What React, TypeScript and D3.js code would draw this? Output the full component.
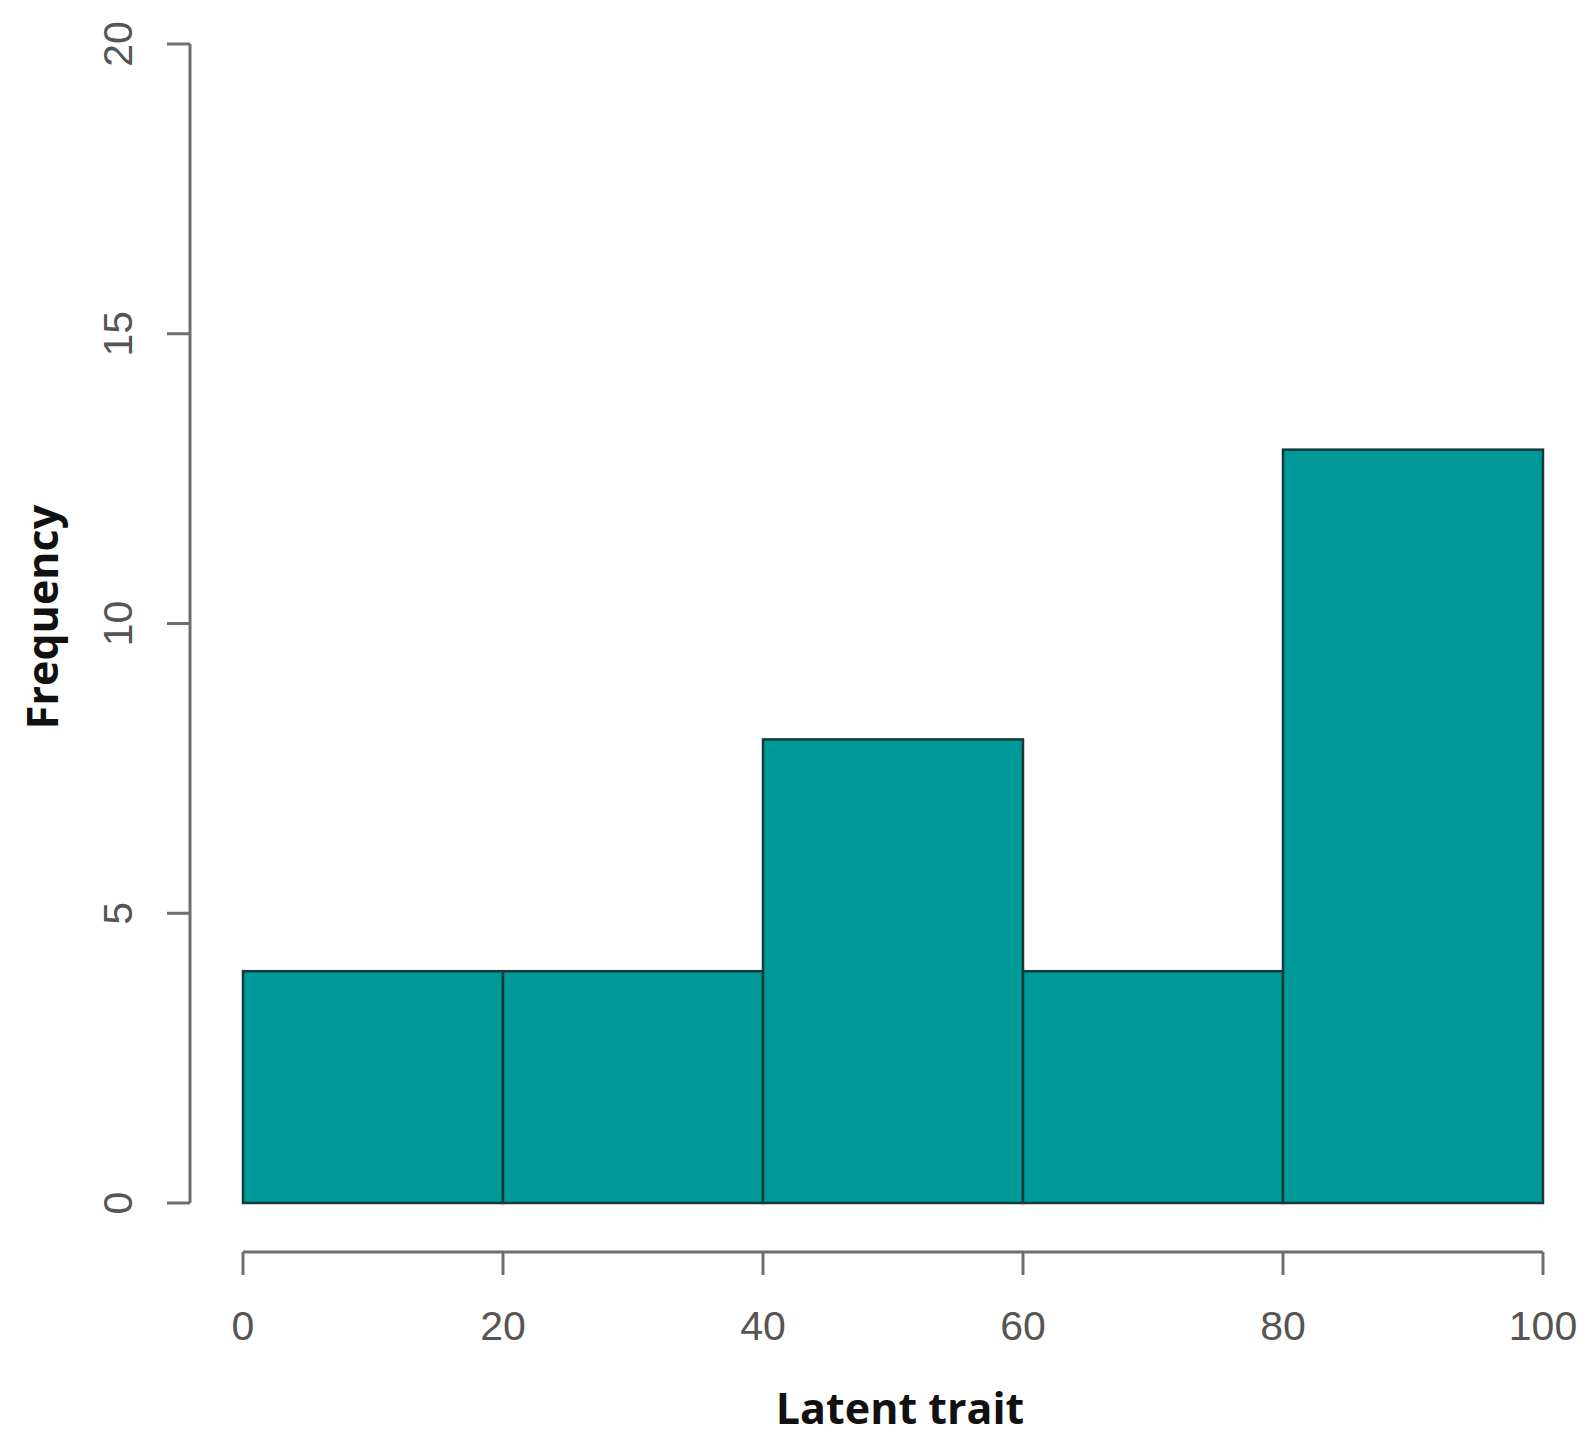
import React from "react";
import * as d3 from "d3";

const binStarts = [0, 20, 40, 60, 80];
const binEnds = [20, 40, 60, 80, 100];
const frequencies = [4, 4, 8, 4, 13];
const xTicks = [0, 20, 40, 60, 80, 100];
const yTicks = [0, 5, 10, 15, 20];
const xLabel = "Latent trait";
const yLabel = "Frequency";

const W = 1588;
const H = 1451;

export default function App() {
  const x = d3.scaleLinear().domain([0, 100]).range([243, 1543]);
  const y = d3.scaleLinear().domain([0, 20]).range([1203, 44]);
  const axisColor = "#6e6e6e";
  const labelColor = "#555555";
  const yAxisX = 190;
  const xAxisY = 1252;
  const tickLen = 23;
  const tickFont = "'Liberation Sans', Arial, sans-serif";
  const titleFont = "'Open Sans', 'Noto Sans', sans-serif";

  return (
    <svg
      width={W}
      height={H}
      style={{ position: "absolute", left: 0, top: 0, background: "#fff" }}
    >
      <rect x={0} y={0} width={W} height={H} fill="#ffffff" />
      {/* bars */}
      {frequencies.map((f, i) => (
        <rect
          key={i}
          x={x(binStarts[i])}
          y={y(f)}
          width={x(binEnds[i]) - x(binStarts[i])}
          height={y(0) - y(f)}
          fill="#009999"
          stroke="#163a3a"
          strokeWidth={2.5}
        />
      ))}
      {/* y axis */}
      <line
        x1={yAxisX}
        x2={yAxisX}
        y1={y(0)}
        y2={y(20)}
        stroke={axisColor}
        strokeWidth={3}
      />
      {yTicks.map((t) => (
        <g key={t}>
          <line
            x1={yAxisX - tickLen}
            x2={yAxisX}
            y1={y(t)}
            y2={y(t)}
            stroke={axisColor}
            strokeWidth={3}
          />
          <text
            transform={`translate(${yAxisX - 58},${y(t)}) rotate(-90)`}
            textAnchor="middle"
            fontFamily={tickFont}
            fontSize={41}
            fill={labelColor}
          >
            {t}
          </text>
        </g>
      ))}
      {/* x axis */}
      <line
        x1={x(0)}
        x2={x(100)}
        y1={xAxisY}
        y2={xAxisY}
        stroke={axisColor}
        strokeWidth={3}
      />
      {xTicks.map((t) => (
        <g key={t}>
          <line
            x1={x(t)}
            x2={x(t)}
            y1={xAxisY}
            y2={xAxisY + tickLen}
            stroke={axisColor}
            strokeWidth={3}
          />
          <text
            x={x(t)}
            y={xAxisY + 88}
            textAnchor="middle"
            fontFamily={tickFont}
            fontSize={41}
            fill={labelColor}
          >
            {t}
          </text>
        </g>
      ))}
      {/* titles */}
      <text
        x={900}
        y={1424}
        textAnchor="middle"
        fontFamily={titleFont}
        fontWeight={700}
        fontSize={43}
        fill="#111"
      >
        {xLabel}
      </text>
      <text
        transform={`translate(58,617) rotate(-90)`}
        textAnchor="middle"
        fontFamily={titleFont}
        fontWeight={700}
        fontSize={43}
        fill="#111"
      >
        {yLabel}
      </text>
    </svg>
  );
}
